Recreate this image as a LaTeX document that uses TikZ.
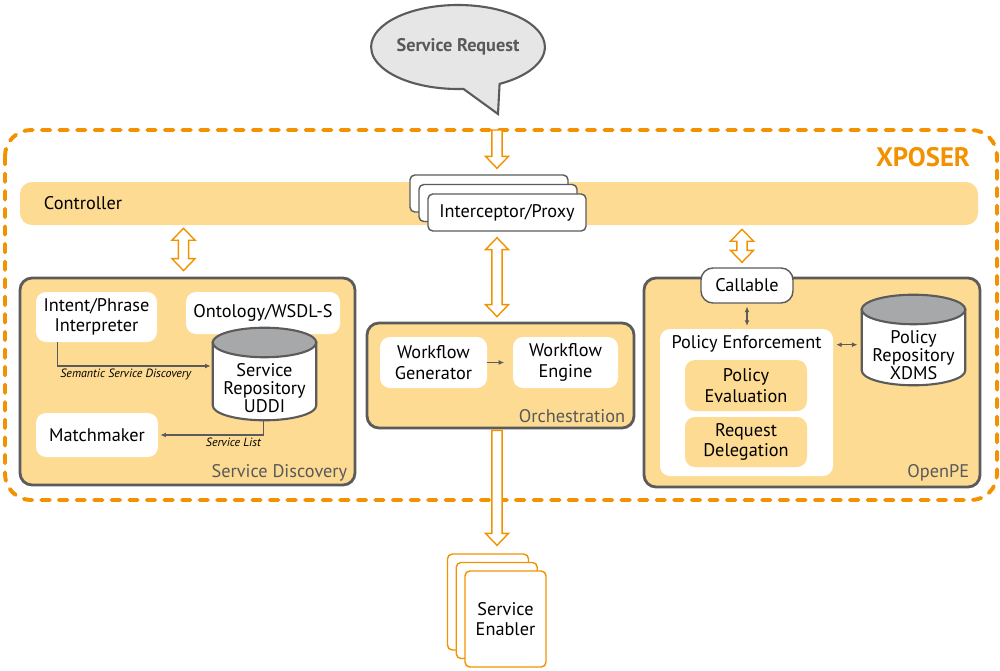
\documentclass[tikz,border=0pt]{standalone}
\usepackage{fontspec}
\setmainfont{PT Sans}
\usetikzlibrary{shapes.callouts,calc,arrows.meta}

\definecolor{xorange}{HTML}{F39200}
\definecolor{xfill}{HTML}{FDDB92}
\definecolor{xgray}{HTML}{5B5B5B}
\definecolor{xtop}{HTML}{A7A8AA}
\definecolor{xcloud}{HTML}{E6E6E6}
\definecolor{xtext}{HTML}{58595B}

\newcommand{\pxu}{0.025cm}
% hollow orange arrows, vertical
\newcommand{\hollowdown}[2]{%
\draw[hollow] let \p1=(#1), \p2=(#2) in
 (\x1-3.6pt,\y1) -- (\x1+3.6pt,\y1) -- (\x1+3.6pt,\y2+8.5pt) -- (\x1+8.2pt,\y2+8.5pt)
 -- (\x1,\y2) -- (\x1-8.2pt,\y2+8.5pt) -- (\x1-3.6pt,\y2+8.5pt) -- cycle;}
\newcommand{\hollowboth}[2]{%
\draw[hollow] let \p1=(#1), \p2=(#2) in
 (\x1,\y1) -- (\x1+8.2pt,\y1-8.5pt) -- (\x1+3.6pt,\y1-8.5pt) -- (\x1+3.6pt,\y2+8.5pt)
 -- (\x1+8.2pt,\y2+8.5pt) -- (\x1,\y2) -- (\x1-8.2pt,\y2+8.5pt) -- (\x1-3.6pt,\y2+8.5pt)
 -- (\x1-3.6pt,\y1-8.5pt) -- (\x1-8.2pt,\y1-8.5pt) -- cycle;}
% database drum round a node
\newcommand{\drum}[1]{%
\draw[xgray, line width=1.5pt, fill=white] let \p1=(#1.north west), \p2=(#1.south east) in
 (\x1,\y1-10.5pt) -- (\x1,\y2+10.5pt)
 arc[start angle=180, end angle=360, x radius={(\x2-\x1)/2}, y radius=10.5pt]
 -- (\x2,\y1-10.5pt) -- cycle;
\draw[xgray, line width=1.5pt, fill=xtop] let \p1=(#1.north west), \p2=(#1.south east) in
 ({(\x1+\x2)/2},\y1-10.5pt) ellipse [x radius={(\x2-\x1)/2}, y radius=10.5pt];}

\tikzset{
  wh/.style 2 args={minimum width=#1*\pxu, minimum height=#2*\pxu},
  whitebox/.style={fill=white, rounded corners=0.25cm, align=center, inner sep=0pt},
  framebox/.style={draw=xgray, line width=1pt, fill=white, rounded corners=0.12cm, inner sep=0pt},
  group/.style={draw=xgray, line width=2pt, fill=xfill, rounded corners=0.3cm, inner sep=0pt},
  subbox/.style={fill=xfill, rounded corners=0.25cm, align=center, inner sep=0pt},
  enabler/.style={draw=xorange, line width=1pt, fill=white, rounded corners=0.12cm, align=center, inner sep=0pt},
  repo/.style={inner sep=0pt},
  drumtext/.style={align=center, inner sep=0pt, font=\fontsize{13}{13}\selectfont},
  tag/.style={text=xtext, inner sep=0pt, anchor=south east},
  note/.style={font=\itshape\fontsize{8.5}{10}\selectfont, inner sep=1.5pt},
  link/.style={draw=xgray, line width=0.9pt, -{Latex[length=4pt,width=3.5pt]}},
  duallink/.style={draw=xgray, line width=0.9pt, {Latex[length=4pt,width=3.5pt]}-{Latex[length=4pt,width=3.5pt]}},
  hollow/.style={draw=xorange, line width=1pt, fill=white},
}

\begin{document}
\begin{tikzpicture}[x=0.025cm, y=-0.025cm, font=\fontsize{13}{14.5}\selectfont]
\useasboundingbox (0,0) rectangle (1000,671);

% xposer frame
\draw[xorange, line width=2.8pt, dash pattern=on 6pt off 6.5pt, line cap=round,
  rounded corners=0.65cm] (5,130) rectangle (997,500);
\node[anchor=east, text=xorange, font=\bfseries\fontsize{19}{21}\selectfont] (xtitle) at (975,157) {XPOSER};

% request
\node[ellipse callout, draw=xgray, line width=1.5pt, fill=xcloud, wh={170}{84}, inner sep=0pt,
  callout absolute pointer={(498,114)}, callout pointer arc=25,
  text=xtext, font=\bfseries\fontsize{13}{15}\selectfont] (req) at (458,47) {Service Request};

% controller
\node[fill=xfill, rounded corners=0.3cm, wh={958}{43}, text width=910*\pxu, inner xsep=0pt,
  align=left] (ctrl) at (499,203.5) {Controller};

\foreach \k in {2,1} {
\node[framebox, wh={158}{37}] (ip\k) at ($(507,212.5)+(-9*\k,-9.5*\k)$) {};
}
\node[framebox, wh={158}{37}] (ip) at (507,212.5) {Interceptor/Proxy};

% service discovery
\node[group, wh={335}{207}] (sd) at (187.5,381.5) {};
\node[tag] (sdtag) at ($(sd.south east)+(-9,-5)$) {Service Discovery};
\node[whitebox, wh={121}{50}] (intent) at (96.5,317) {Intent/Phrase\\Interpreter};
\node[whitebox, wh={154}{42}] (onto) at (263,313) {Ontology/WSDL-S};
\node[repo, wh={103}{92}] (uddi) at (264.5,374) {};
\drum{uddi}
\node[drumtext] (uddit) at ($(uddi.center)+(0,14)$) {Service\\Repository\\UDDI};
\node[whitebox, wh={122}{44}] (match) at (97,435) {Matchmaker};

\draw[link] ($(intent.south west)+(22,0)$) |- ($(uddi.west)+(-2,-8)$)
  node[note, pos=0.5, anchor=north west] (ssd) {Semantic Service Discovery};
\draw[link] ($(uddi.south)+(-1,0)$) |- ($(match.east)+(2,0)$)
  node[note, pos=0.5, anchor=north east] (slist) {Service List};

% orchestration
\node[group, wh={267}{105}] (orch) at (500.5,375.5) {};
\node[tag] (orchtag) at ($(orch.south east)+(-10,-6)$) {Orchestration};
\node[whitebox, wh={107}{51}] (wfgen) at (433.5,362.5) {Workflow\\Generator};
\node[whitebox, wh={105}{51}] (wfeng) at (565.5,362.5) {Workflow\\Engine};
\draw[link, shorten >=6pt] (wfgen.east) -- (wfeng.west);

% openpe
\node[group, wh={336}{209}] (ope) at (812,382.5) {};
\node[tag] (opetag) at ($(ope.south east)+(-12,-7)$) {OpenPE};
\node[framebox, rounded corners=0.3cm, wh={92}{35}] (callable) at (747,285.5) {Callable};
\node[whitebox, wh={173}{147},
  label={[anchor=north, inner sep=0pt, yshift=-7*\pxu]north:Policy Enforcement}] (pep) at (746.5,402.5) {};
\node[subbox, wh={122}{51}] (peval) at (746,385.5) {Policy\\Evaluation};
\node[subbox, wh={122}{50}] (rdel) at (746,442) {Request\\Delegation};
\node[repo, wh={103}{90}] (xdms) at (913.5,340) {};
\drum{xdms}
\node[drumtext] (xdmst) at ($(xdms.center)+(0,15)$) {Policy\\Repository\\XDMS};

\draw[duallink, shorten <=2pt, shorten >=2pt] (callable.south) -- (callable.south |- pep.north);
\coordinate (pe) at ($(pep.north east)+(0,16)$);
\draw[duallink, shorten <=2pt, shorten >=3pt] (pe) -- (pe -| xdms.west);

% service enabler
\foreach \k in {2,1} {
\node[enabler, wh={81}{96}] (se\k) at ($(505.5,619)+(-8.75*\k,-8.5*\k)$) {};
}
\node[enabler, wh={81}{96}] (se) at (505.5,619) {Service\\Enabler};

% hollow arrows
\coordinate (gate) at (497,130);
\hollowdown{gate}{$(gate |- ip2.north)+(0,-6)$}
\hollowboth{$(gate |- ip.south)+(0,6)$}{$(gate |- orch.north)+(0,-5)$}
\hollowboth{$(ctrl.south -| sd.north)+(-4,3)$}{$(sd.north)+(-4,-6)$}
\hollowboth{$(ctrl.south -| callable.north)+(-5,4)$}{$(callable.north)+(-5,-5)$}
\hollowdown{$(gate |- orch.south)+(0,1)$}{$(gate |- se2.north)+(0,-8)$}
\end{tikzpicture}
\end{document}
